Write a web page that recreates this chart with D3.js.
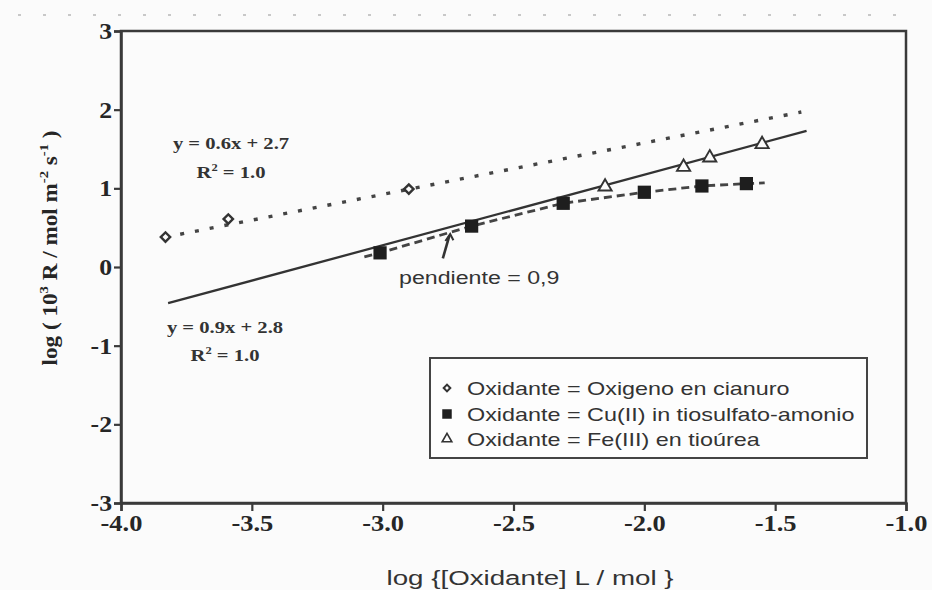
<!DOCTYPE html>
<html>
<head>
<meta charset="utf-8">
<script src="https://cdn.jsdelivr.net/npm/d3@7"></script>
<style>
  body { margin: 0; background: #fbfbfb; }
  svg { display: block; }
</style>
</head>
<body>
<div id="chart"></div>
<script>
// values
const xTicks = [-4.0, -3.5, -3.0, -2.5, -2.0, -1.5, -1.0];
const yTicks = [-3, -2, -1, 0, 1, 2, 3];

const oxigenoX = [-3.83, -3.59, -2.90];
const oxigenoY = [0.38, 0.61, 0.99];

const cobreX = [-3.01, -2.66, -2.31, -2.00, -1.78, -1.61];
const cobreY = [0.18, 0.52, 0.81, 0.95, 1.03, 1.06];

const hierroX = [-2.15, -1.85, -1.75, -1.55];
const hierroY = [1.02, 1.27, 1.39, 1.56];

// trend lines, ends
const fitOxigenoX = [-3.83, -1.40];
const fitOxigenoY = [0.38, 1.97];
const fitSolidX = [-3.82, -1.38];
const fitSolidY = [-0.46, 1.73];
const cobreLineX = [-3.07, -3.01, -2.66, -2.31, -2.00, -1.78, -1.61, -1.54];
const cobreLineY = [0.13, 0.18, 0.52, 0.81, 0.95, 1.03, 1.06, 1.07];

const legendLabels = [
  "Oxidante = Oxigeno en cianuro",
  "Oxidante = Cu(II) in tiosulfato-amonio",
  "Oxidante = Fe(III) en tioúrea"
];

const width = 932, height = 590;
const svg = d3.select("#chart").append("svg")
  .attr("width", width)
  .attr("height", height);

const x = d3.scaleLinear().domain([-4, -1]).range([121, 906]);
const y = d3.scaleLinear().domain([-3, 3]).range([503, 31]);

const ink = "#3a3a3a";
const serif = "'Liberation Serif', 'DejaVu Serif', serif";
const sans = "'Liberation Sans', Arial, sans-serif";

// the scan is a bit wider than tall, so text gets stretched sideways
function label(px, py, sx, txt) {
  return svg.append("text")
    .attr("transform", `translate(${px}, ${py}) scale(${sx}, 1)`)
    .text(txt);
}

// faint scan dots along the top
svg.append("line")
  .attr("x1", 18).attr("x2", 915).attr("y1", 15).attr("y2", 15)
  .attr("stroke", "#c8c8c8").attr("stroke-width", 2)
  .attr("stroke-dasharray", "3 22");

// frame
svg.append("rect")
  .attr("x", x(-4)).attr("y", y(3))
  .attr("width", x(-1) - x(-4)).attr("height", y(-3) - y(3))
  .attr("fill", "none").attr("stroke", ink).attr("stroke-width", 2.5);

// axes
const xAxis = svg.append("g")
  .attr("transform", `translate(0, ${y(-3)})`)
  .call(d3.axisBottom(x).tickValues(xTicks).tickSize(8).tickPadding(4));
const yAxis = svg.append("g")
  .attr("transform", `translate(${x(-4)}, 0)`)
  .call(d3.axisLeft(y).tickValues(yTicks).tickSize(7).tickPadding(3));

[xAxis, yAxis].forEach(function (g) {
  g.select(".domain").attr("stroke", ink).attr("stroke-width", 2.5);
  g.selectAll(".tick line").attr("stroke", ink).attr("stroke-width", 2.2);
  g.selectAll(".tick text")
    .attr("fill", "#262626")
    .style("font-family", serif)
    .style("font-weight", "bold")
    .style("font-size", "23px");
});
xAxis.selectAll(".tick text")
  .attr("transform", "scale(1.15, 1)")
  .text(d => d.toFixed(1));
yAxis.selectAll(".tick text")
  .attr("x", -8)
  .attr("transform", "scale(1.12, 1)")
  .text(d => String(d));

// axis titles
label(530, 585, 1.32, "log {[Oxidante] L / mol }")
  .attr("text-anchor", "middle")
  .attr("fill", "#333")
  .style("font-family", sans)
  .style("font-size", "21px");

const yTitle = svg.append("text")
  .attr("transform", "translate(57, 248) rotate(-90) scale(1.22, 1.1)")
  .attr("text-anchor", "middle")
  .attr("fill", "#262626")
  .style("font-family", serif)
  .style("font-weight", "bold")
  .style("font-size", "19px");
yTitle.append("tspan").text("log ( 10");
yTitle.append("tspan").attr("dy", -8).style("font-size", "12px").text("3");
yTitle.append("tspan").attr("dy", 8).text(" R / mol m");
yTitle.append("tspan").attr("dy", -8).style("font-size", "12px").text("-2");
yTitle.append("tspan").attr("dy", 8).text(" s");
yTitle.append("tspan").attr("dy", -8).style("font-size", "12px").text("-1");
yTitle.append("tspan").attr("dy", 8).text(" )");

// lines
const line = d3.line().x(d => x(d[0])).y(d => y(d[1]));
const zip = (a, b) => a.map((v, i) => [v, b[i]]);

svg.append("path")
  .datum(zip(fitOxigenoX, fitOxigenoY))
  .attr("d", line).attr("fill", "none")
  .attr("stroke", "#444").attr("stroke-width", 3.4)
  .attr("stroke-dasharray", "4 11");

svg.append("path")
  .datum(zip(fitSolidX, fitSolidY))
  .attr("d", line).attr("fill", "none")
  .attr("stroke", "#333").attr("stroke-width", 2.3);

svg.append("path")
  .datum(zip(cobreLineX, cobreLineY))
  .attr("d", line).attr("fill", "none")
  .attr("stroke", "#444").attr("stroke-width", 2.8)
  .attr("stroke-dasharray", "8 5");

// markers
svg.append("g").selectAll("path")
  .data(zip(oxigenoX, oxigenoY))
  .join("path")
  .attr("transform", d => `translate(${x(d[0])}, ${y(d[1])}) rotate(45)`)
  .attr("d", d3.symbol(d3.symbolSquare, 44))
  .attr("fill", "#fbfbfb").attr("stroke", "#333").attr("stroke-width", 2.4);

svg.append("g").selectAll("path")
  .data(zip(cobreX, cobreY))
  .join("path")
  .attr("transform", d => `translate(${x(d[0])}, ${y(d[1])})`)
  .attr("d", d3.symbol(d3.symbolSquare, 175))
  .attr("fill", "#1e1e1e");

svg.append("g").selectAll("path")
  .data(zip(hierroX, hierroY))
  .join("path")
  .attr("transform", d => `translate(${x(d[0])}, ${y(d[1])})`)
  .attr("d", d3.symbol(d3.symbolTriangle, 75))
  .attr("fill", "#fbfbfb").attr("stroke", "#333").attr("stroke-width", 1.9);

// equations
function equation(xp, yp, eq, r2y) {
  label(xp, yp, 1.25, eq)
    .attr("text-anchor", "middle")
    .attr("fill", "#333")
    .style("font-family", serif)
    .style("font-weight", "bold")
    .style("font-size", "16.5px");
  const r = label(xp, r2y, 1.25, "")
    .attr("text-anchor", "middle")
    .attr("fill", "#333")
    .style("font-family", serif)
    .style("font-weight", "bold")
    .style("font-size", "16.5px");
  r.append("tspan").text("R");
  r.append("tspan").attr("dy", -7).style("font-size", "10px").text("2");
  r.append("tspan").attr("dy", 7).text(" = 1.0");
}
equation(231, 149, "y = 0.6x + 2.7", 178);
equation(225, 333, "y = 0.9x + 2.8", 361);

// pendiente arrow + label
svg.append("line")
  .attr("x1", x(-2.77)).attr("y1", y(0.11))
  .attr("x2", x(-2.745)).attr("y2", y(0.40))
  .attr("stroke", "#333").attr("stroke-width", 2.6);
svg.append("path")
  .attr("d", `M${x(-2.745) - 4},${y(0.33)} L${x(-2.742)},${y(0.42)} L${x(-2.745) + 4},${y(0.34)}`)
  .attr("fill", "none").attr("stroke", "#333").attr("stroke-width", 2);
label(399, 284, 1.22, "pendiente = 0,9")
  .attr("fill", "#333")
  .style("font-family", sans)
  .style("font-size", "19px");

// legend
const legend = svg.append("g");
legend.append("rect")
  .attr("x", 430).attr("y", 358).attr("width", 437).attr("height", 100)
  .attr("fill", "#fdfdfd").attr("stroke", "#444").attr("stroke-width", 2);

const legendY = [388, 414, 439];
legendLabels.forEach(function (d, i) {
  label(467, legendY[i] + 6.5, 1.23, d)
    .attr("fill", "#333")
    .style("font-family", sans)
    .style("font-size", "19px");
});

legend.append("path")
  .attr("transform", `translate(447, ${legendY[0]}) rotate(45)`)
  .attr("d", d3.symbol(d3.symbolSquare, 22))
  .attr("fill", "none").attr("stroke", "#333").attr("stroke-width", 2);
legend.append("path")
  .attr("transform", `translate(447, ${legendY[1]})`)
  .attr("d", d3.symbol(d3.symbolSquare, 90))
  .attr("fill", "#1e1e1e");
legend.append("path")
  .attr("transform", `translate(447, ${legendY[2]})`)
  .attr("d", d3.symbol(d3.symbolTriangle, 40))
  .attr("fill", "none").attr("stroke", "#333").attr("stroke-width", 1.6);
</script>
</body>
</html>
